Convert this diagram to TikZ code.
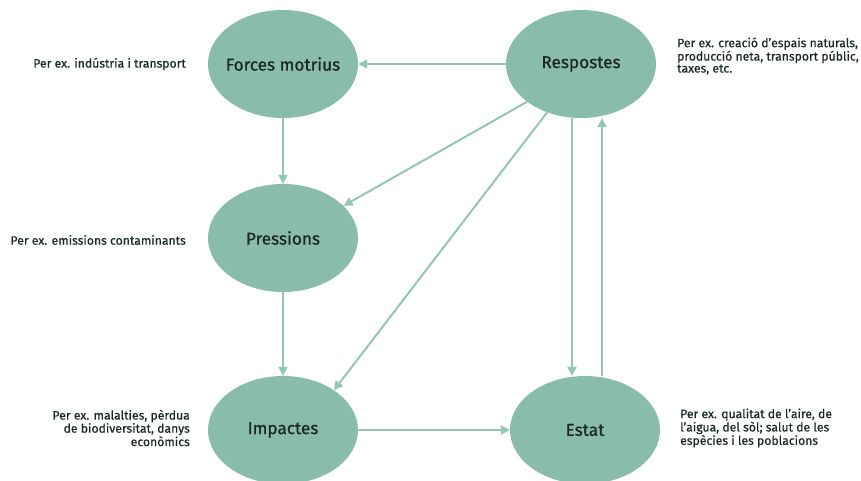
\documentclass[tikz,border=0pt]{standalone}
\usepackage{fontspec}
\setmainfont{Fira Sans}
\newfontfamily\labfont[FakeBold=0.8]{Fira Sans}
\newfontfamily\sidefont[FakeBold=0.4]{Fira Sans}
\usetikzlibrary{arrows.meta,shapes.geometric}
\definecolor{ellfill}{RGB}{138,188,172}
\definecolor{arrcol}{RGB}{148,198,182}
\definecolor{txt}{RGB}{25,40,35}
\tikzset{
  blob/.style={ellipse, fill=ellfill, minimum width=150pt, minimum height=108pt, inner sep=0pt, text=txt, font=\labfont\fontsize{17.2}{19}\selectfont},
  side/.style={text=txt, font=\sidefont\fontsize{12.2}{12}\selectfont, inner sep=0pt},
  conn/.style={draw=arrcol, line width=2pt, -{Triangle[length=9pt,width=9pt]}}
}
\begin{document}
\begin{tikzpicture}[x=1pt,y=-1pt]
\useasboundingbox[fill=white] (0,0) rectangle (861,480);
\node[blob] (F) at (283,64) {\makebox[0pt]{Forces motrius}};
\node[blob] (R) at (581,64) {\makebox[0pt]{Respostes}};
\node[blob] (P) at (283,238) {\makebox[0pt]{Pressions}};
\node[blob] (I) at (283,430) {\makebox[0pt]{Impactes}};
\node[blob] (E) at (585,430) {\makebox[0pt]{Estat}};

\node[side, anchor=east] (tF) at (186,64) {Per ex. indústria i transport};
\node[side, anchor=west, align=left] (tR) at (677,56) {Per ex. creació d’espais naturals,\\producció neta, transport públic,\\taxes, etc.};
\node[side, anchor=east] (tP) at (186,240) {Per ex. emissions contaminants};
\node[side, anchor=east, align=right] (tI) at (190,428) {Per ex. malalties, pèrdua\\de biodiversitat, danys\\econòmics};
\node[side, anchor=west, align=left] (tE) at (680,428) {Per ex. qualitat de l’aire, de\\l’aigua, del sòl; salut de les\\espècies i les poblacions};

\draw[conn] (R.west) -- (F.east);
\draw[conn] (F.south) -- (P.north);
\draw[conn] (P.south) -- (I.north);
\draw[conn] (I.east) -- (E.west);
\draw[conn] (R.-145) -- (P.28);
\draw[conn] (R.-125) -- (I.38);
\draw[conn] (R.south -| 572,0) -- (E.north -| 572,0);
\draw[conn] (E.north -| 602,0) -- (R.south -| 602,0);
\end{tikzpicture}
\end{document}
